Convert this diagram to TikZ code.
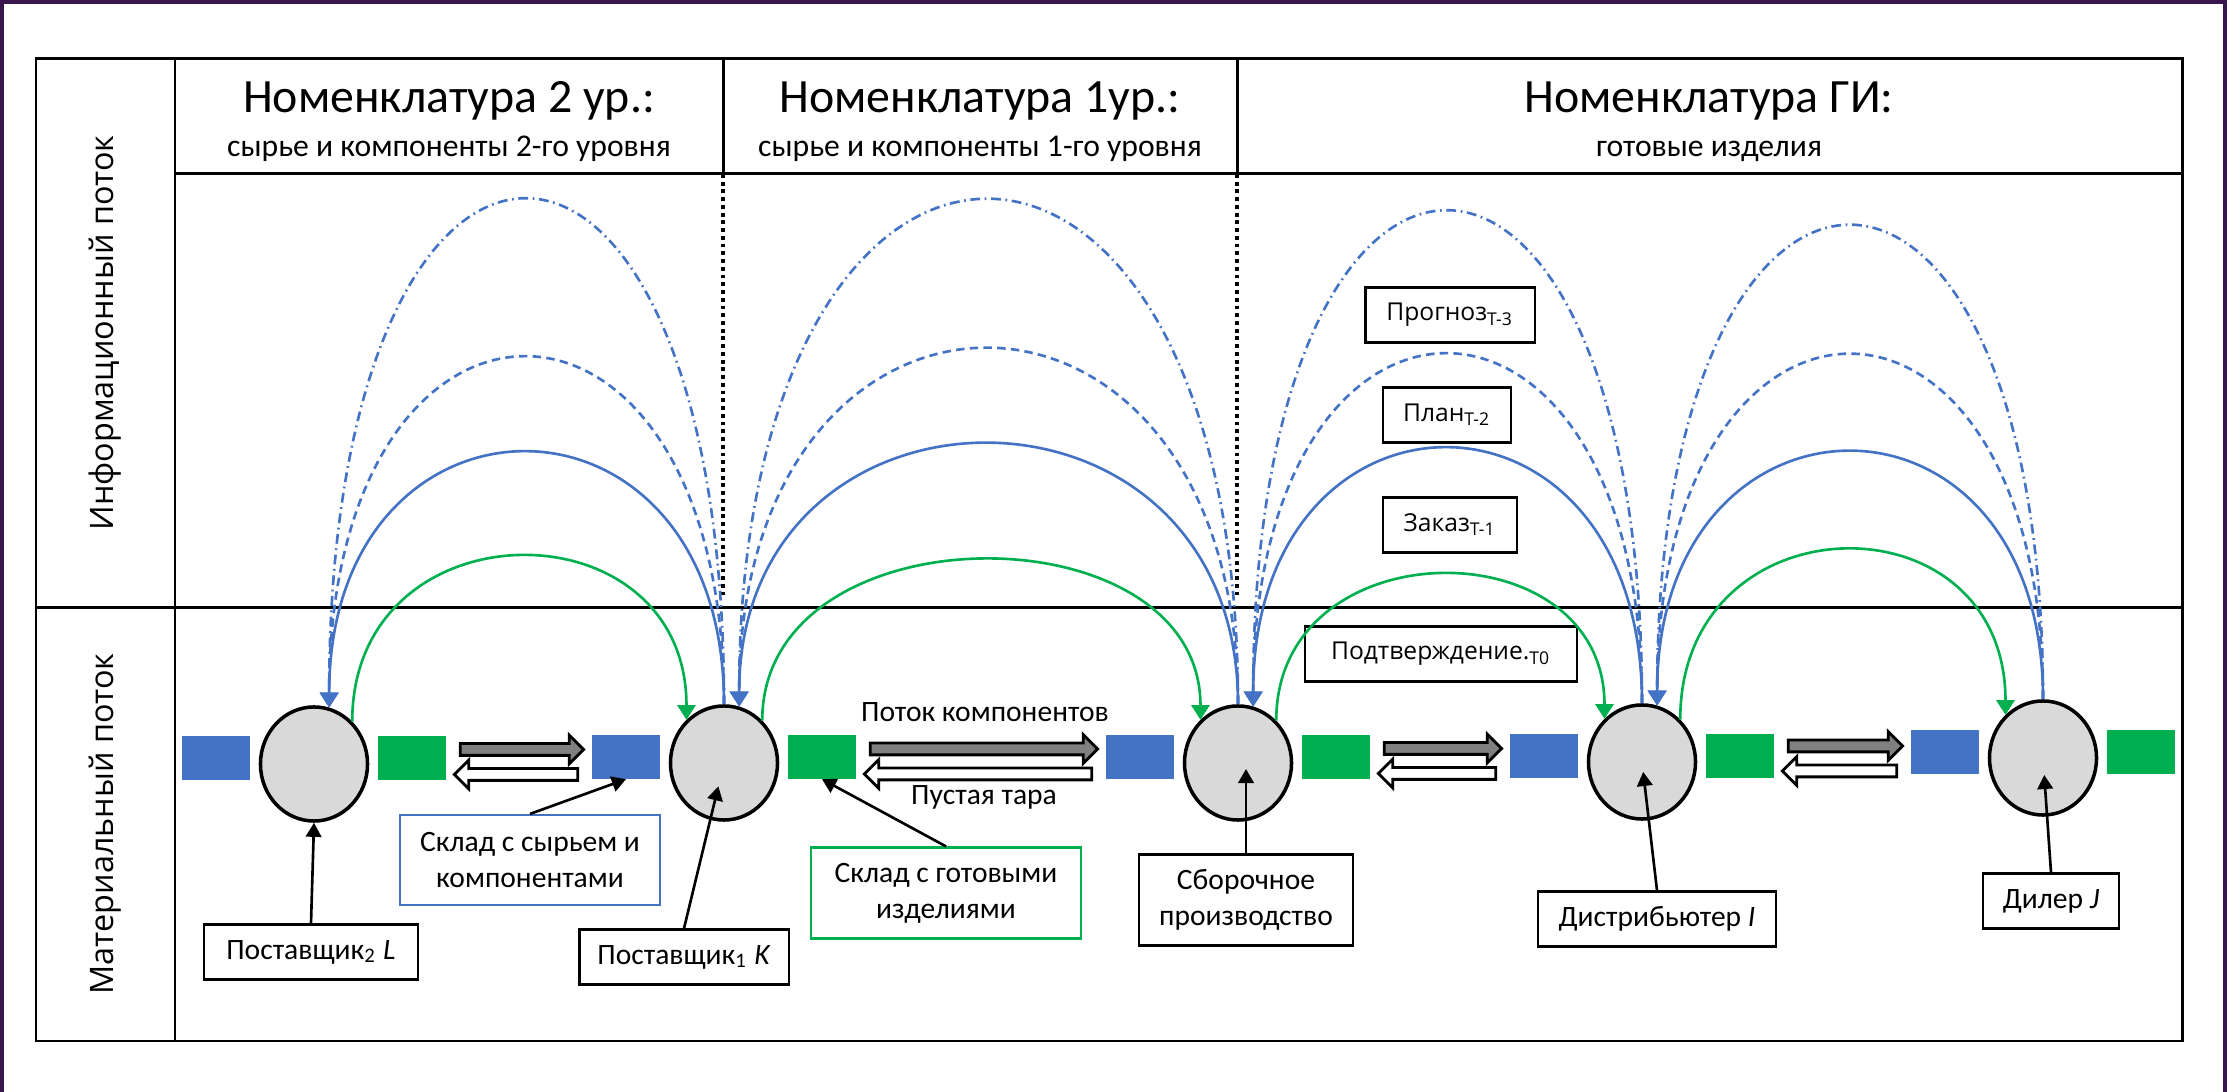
\documentclass[tikz,border=0pt]{standalone}
\usepackage{fontspec}
\setmainfont{Carlito}
\newfontfamily\widefont{Open Sans}
\usetikzlibrary{arrows.meta,calc,positioning,shapes.geometric,shapes.arrows}

\definecolor{infoblue}{RGB}{68,114,196}
\definecolor{matgreen}{RGB}{0,176,80}
\definecolor{stagegray}{RGB}{217,217,217}
\definecolor{tubegray}{RGB}{128,128,128}
\definecolor{framepurple}{RGB}{58,22,78}

\begin{document}
\begin{tikzpicture}[x=0.01cm,y=-0.01cm,
	stage/.style={ellipse,draw,line width=1pt,fill=stagegray,minimum width=1.07cm,minimum height=1.14cm,inner sep=0pt},
	instock/.style={rectangle,fill=infoblue,minimum width=0.68cm,minimum height=0.43cm,inner sep=0pt},
	outstock/.style={instock,fill=matgreen},
	hdr/.style={anchor=base,font=\fontsize{13.6}{16}\selectfont},
	subhdr/.style={anchor=base,font=\fontsize{9}{11}\selectfont},
	sidelbl/.style={rotate=90,font=\widefont\fontsize{9.2}{11}\selectfont},
	lbl/.style={rectangle,draw,line width=0.6pt,align=center,inner sep=2pt,minimum height=0.55cm,font=\fontsize{8.4}{10.2}\selectfont},
	flowtxt/.style={anchor=base,font=\fontsize{8.4}{10.2}\selectfont},
	infolbl/.style={rectangle,draw,line width=0.6pt,inner sep=2pt,minimum height=0.55cm,font=\widefont\fontsize{7}{9}\selectfont},
	fwdarrow/.style={single arrow,draw,line width=0.8pt,fill=tubegray,inner xsep=0pt,inner ysep=0.045cm,single arrow head extend=0.085cm},
	backarrow/.style={fwdarrow,fill=white,shape border rotate=180},
	pointer/.style={-{Triangle[length=4pt,width=4.4pt]},line width=0.75pt},
	infoorder/.style={-{Triangle[length=4.2pt,width=5.2pt]},line width=0.75pt,infoblue},
	infoplan/.style={infoorder,dash pattern=on 2.4pt off 1.5pt},
	infofcst/.style={infoorder,dash pattern=on 2.8pt off 1.3pt on 0.5pt off 1.3pt},
	confirm/.style={-{Triangle[length=4.2pt,width=5.2pt]},line width=0.75pt,matgreen},
	tableline/.style={line width=0.85pt}
	]

\useasboundingbox (0,0) rectangle (2227,1092);
% frame of the slide
\draw[framepurple,line width=1.4pt] (2,1092) -- (2,2) -- (2225,2) -- (2225,1092);

% table
\draw[tableline] (36,59) rectangle (2182,1041);
\draw[tableline] (175,59) -- (175,1041);
\draw[tableline] (175,174) -- (2182,174);
\draw[tableline] (36,608) -- (2182,608);
\foreach \x in {723,1237} {
	\draw[tableline] (\x,59) -- (\x,174);
	\draw[line width=1.1pt,dash pattern=on 1.1pt off 1.1pt] (\x,174) -- (\x,595);
}

% headers
\node[hdr] (nom2) at (449,113) {Номенклатура 2 ур.:};
\node[subhdr] (sub2) at (449,157) {сырье и компоненты 2-го уровня};
\node[hdr] (nom1) at (980,113) {Номенклатура 1ур.:};
\node[subhdr] (sub1) at (980,157) {сырье и компоненты 1-го уровня};
\node[hdr] (nomgi) at (1709,113) {Номенклатура ГИ:};
\node[subhdr] (subgi) at (1709,157) {готовые изделия};

\node[sidelbl] (info) at (105,333) {Информационный поток};
\node[sidelbl] (mat) at (105,824) {Материальный поток};

% stages of the chain
\node[stage] (L) at (314,764) {};
\node[stage] (K) at (724,763) {};
\node[stage] (C) at (1238,763) {};
\node[stage] (I) at (1642,762) {};
\node[stage] (J) at (2043,758) {};

\foreach \s in {L,K,C,I,J} {
	\node[instock,left=0.08cm of \s,yshift=0.06cm] (in\s) {};
	\node[outstock,right=0.08cm of \s,yshift=0.06cm] (out\s) {};
}

% material flow
\foreach \a/\b in {L/K,K/C,C/I,I/J} {
	\path let \p1=(out\a.east), \p2=(in\b.west) in
		node[fwdarrow,minimum height=\x2-\x1-6pt] (fwd\a\b) at ($(\p1)!0.5!(\p2)+(0,-8)$) {}
		node[backarrow,minimum height=\x2-\x1-6pt] (back\a\b) at ($(\p1)!0.5!(\p2)+(0,17)$) {};
}
\node[flowtxt] (flowlbl) at (985,722) {Поток компонентов};
\node[flowtxt] (emptylbl) at (984,805) {Пустая тара};

% labels
\node[lbl,minimum width=2.13cm] (supL) at (311,952) {Поставщик\textsubscript{2} \textit{L}};
\node[lbl,minimum width=2.09cm] (supK) at (684,957) {Поставщик\textsubscript{1} \textit{K}};
\node[lbl,draw=infoblue,minimum width=2.6cm,minimum height=0.9cm] (rawstore) at (530,860) {Склад с сырьем и\\компонентами};
\node[lbl,draw=matgreen,minimum width=2.69cm,minimum height=0.91cm] (fgstore) at (946,893) {Склад с готовыми\\изделиями};
\node[lbl,minimum width=2.14cm,minimum height=0.91cm] (asm) at (1246,900) {Сборочное\\производство};
\node[lbl,minimum width=2.38cm] (dist) at (1657,919) {Дистрибьютер \textit{I}};
\node[lbl,minimum width=1.36cm] (dlr) at (2051,901) {Дилер \textit{J}};

\draw[pointer] (supL.north) -- (L.south);
\draw[pointer,shorten >=0.24cm] (supK.north) -- (K.center);
\draw[pointer] (rawstore.north) -- (inK.south);
\draw[pointer] (fgstore.north) -- (outK.south);
\draw[pointer,shorten >=0.06cm] (asm.north) -- (asm.north |- C.center);
\draw[pointer,shorten >=0.1cm] (dist.north) -- (I.center);
\draw[pointer,shorten >=0.17cm] (dlr.north) -- (J.center);

% information flow
\node[infolbl,minimum width=1.69cm] (fcst) at (1450,315) {Прогноз\textsubscript{T-3}};
\node[infolbl,minimum width=1.28cm] (plan) at (1447,415) {План\textsubscript{T-2}};
\node[infolbl,minimum width=1.34cm] (ordr) at (1450,525) {Заказ\textsubscript{T-1}};
\node[infolbl,minimum width=2.71cm] (conf) at (1441,654) {Подтверждение.\textsubscript{T0}};

\foreach \a/\b/\hs/\hd/\hf/\hg in {L/K/253/348/506/164, K/C/261/356/505/160, C/I/256/350/493/145, I/J/250/347/476/167} {
	\draw[infoorder] (\b.90) .. controls +(0,-1.333*\hs) and +(0,-1.333*\hs) .. (\a.75);
	\draw[infoplan] (\b.90) .. controls +(0,-1.333*\hd) and +(0,-1.333*\hd) .. (\a.75);
	\draw[infofcst] (\b.90) .. controls +(0,-1.333*\hf) and +(0,-1.333*\hf) .. (\a.75);
	\draw[confirm] (\a.48) .. controls +(0,-1.333*\hg) and +(0,-1.333*\hg) .. (\b.131);
}

\end{tikzpicture}
\end{document}
